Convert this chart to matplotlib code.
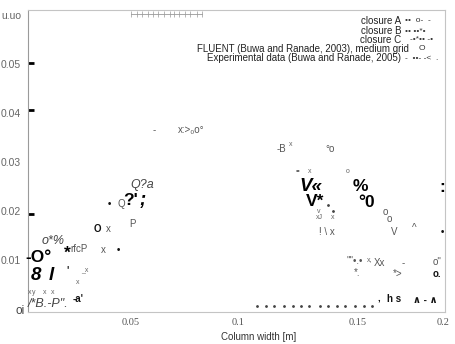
'''
Scanned column-width plot, rebuilt as text glyphs placed in data space.
x: column width [m], y: value (unlabelled, 0 - 0.06)
'''

import matplotlib
matplotlib.use('Agg')
from matplotlib import pyplot as plt
from matplotlib.transforms import ScaledTranslation

plt.rcParams['font.family'] = ['Liberation Sans', 'DejaVu Sans']

# axis ticks as printed
x_ticks = [0.0494, 0.1007, 0.1583, 0.1990]
x_tick_labels = ['0.05', '0.1', '0.15', '0.2']
y_ticks = [0.0, 0.01, 0.02, 0.03, 0.04, 0.05, 0.06]
y_tick_labels = ['oi', '0.01', '0.02', '0.03', '0.04', '0.05', 'u.uo']

# dark tick dashes on the left axis
dash_y = [0.0502, 0.0406, 0.0194]

# legend rows (text) and their garbled symbols
legend_labels = ['closure A', 'closure B', 'closure C',
                 'FLUENT (Buwa and Ranade, 2003), medium grid',
                 'Experimental data (Buwa and Ranade, 2005)']
legend_y = [0.0588, 0.0567, 0.0549, 0.0531, 0.0512]
legend_symbols = ['••  o-  -', '•• ••*•', '-•*•• -•', 'O', '-  ••- -<  .']
legend_sym_x = [0.1808, 0.1808, 0.1832, 0.1875, 0.1808]

# error-bar strip at the top
strip_x = [0.0494, 0.0523, 0.0547, 0.0576, 0.0600, 0.0624, 0.0652,
           0.0681, 0.0700, 0.0724, 0.0753, 0.0777, 0.0811, 0.0835]
strip_y = 0.0602

# dotted row near the bottom
dots_x = [0.110, 0.114, 0.118, 0.123, 0.127, 0.131, 0.135, 0.140,
          0.144, 0.148, 0.152, 0.157, 0.161, 0.165]
dots_y = 0.0006

# small trail of dots near "V*"
trail_x = [0.1439, 0.1463]
trail_y = [0.0212, 0.0200]

# tiny grey glyphs
tiny_x = [0.1261, 0.1295, 0.1353, 0.1535, 0.1396, 0.1400, 0.1463,
          0.0273, 0.0240, 0.0010, 0.0029, 0.0082, 0.0120, 0.1640]
tiny_y = [0.0335, 0.0280, 0.0280, 0.0280, 0.0198, 0.0186, 0.0186,
          0.0080, 0.0055, 0.0034, 0.0034, 0.0034, 0.0034, 0.0102]
tiny_txt = ['x', '••', 'x', 'o', 'v', 'xJ', 'x',
            '_x', 'x', 'x', 'y', 'x', 'x', 'x,']

# small grey glyphs
grey_x = [0.0604, 0.0782, 0.0446, 0.0499, 0.0384, 0.0245, 0.0360,
          0.1213, 0.1448, 0.1714, 0.1735, 0.1434, 0.1755, 0.1851,
          0.1568, 0.1688, 0.1578, 0.1775, 0.1799, 0.1962]
grey_y = [0.0365, 0.0365, 0.0214, 0.0173, 0.0163, 0.0122, 0.0120,
          0.0327, 0.0327, 0.0198, 0.0184, 0.0157, 0.0157, 0.0165,
          0.0098, 0.0094, 0.0073, 0.0071, 0.0094, 0.0096]
grey_txt = ['-', 'x:>₀o°', 'Q', 'P', 'x', 'rfcP', 'x',
            '-B', '°o', 'o', 'o', '! \\ x', 'V', '^',
            '""•.•', 'Xx', '*.', '*>', '-', 'o"']

# grey italic glyphs
ital_x = [0.0547, 0.0120, 0.0096]
ital_y = [0.0253, 0.0139, 0.0011]
ital_txt = ['Q?a', 'o*%', '/*B.-P".']

# big black bold glyphs
bold_x = [0.0494, 0.0048, 0.1592, 0.1986, 0.1377, 0.1626, 0.0187]
bold_y = [0.0222, 0.0106, 0.0250, 0.0247, 0.0219, 0.0218, 0.0114]
bold_txt = ["?'", '-O°', '%', ':', 'V*', '°0', '*']

# big black bold italic glyphs
bital_x = [0.0038, 0.0110, 0.1357, 0.0552]
bital_y = [0.0069, 0.0069, 0.0249, 0.0222]
bital_txt = ['8', 'l', 'V«', ';']

# small black glyphs
sblk_x = [0.0331, 0.0192, 0.0240, 0.1683, 0.1755, 0.1904,
          0.0389, 0.0432, 0.1986, 0.1962]
sblk_y = [0.0163, 0.0080, 0.0020, 0.0024, 0.0020, 0.0018,
          0.0214, 0.0120, 0.0157, 0.0071]
sblk_txt = ['O', "'", "-a'", ',', 'h s', '∧ - ∧', '•', '•', '•', 'o.']


if __name__ == '__main__':
    fig = plt.figure(figsize=(4.55, 3.44), dpi=100)
    ax = fig.add_axes([28 / 455, 32 / 344, 417 / 455, 302 / 344])
    ax.set_xlim(0, 0.2)
    ax.set_ylim(-0.0006, 0.061)

    for side in ['top', 'right', 'bottom']:
        ax.spines[side].set_color('#c4c4c4')
    ax.spines['left'].set_color('#9a9a9a')

    ax.set_xticks(x_ticks)
    ax.set_xticklabels(x_tick_labels, family='Liberation Serif',
                       fontsize=7.5, color='#555555')
    ax.set_yticks(y_ticks)
    ax.set_yticklabels(y_tick_labels, fontsize=7.5, color='#666666')
    ax.tick_params(axis='both', length=0)
    ax.tick_params(axis='x', pad=4)
    ax.tick_params(axis='y', pad=5)

    # the "oi" label sits closer to the axis and is a bit larger
    oi = ax.get_yticklabels()[0]
    oi.set_fontsize(8.5)
    oi.set_color('#444444')
    oi.set_transform(oi.get_transform()
                     + ScaledTranslation(4 / 100, 0, fig.dpi_scale_trans))

    ax.set_xlabel('Column width [m]', fontsize=7, color='#333333')
    ax.xaxis.set_label_coords(0.552, -0.065)

    ax.plot([0.0015] * len(dash_y), dash_y, ls='none', marker='_',
            ms=4, mew=2, color='black', clip_on=False)

    for lab, y, sym, sx in zip(legend_labels, legend_y, legend_symbols,
                               legend_sym_x):
        ax.text(0.1789 if not lab.startswith('FLUENT') else 0.1825, y, lab,
                ha='right', va='center', fontsize=7, color='#222222')
        ax.text(sx, y, sym, ha='left', va='center', fontsize=6,
                color='#333333')

    ax.plot(strip_x, [strip_y] * len(strip_x), color='#999999', lw=0.6,
            marker='|', ms=4, mew=0.5)
    ax.plot(dots_x, [dots_y] * len(dots_x), ls='none', marker='.', ms=2,
            color='#444444')
    ax.plot(trail_x, trail_y, ls='none', marker='.', ms=2, color='#444444')

    for x, y, t in zip(tiny_x, tiny_y, tiny_txt):
        ax.text(x, y, t, ha='center', va='center', fontsize=5,
                color='#666666')
    for x, y, t in zip(grey_x, grey_y, grey_txt):
        ax.text(x, y, t, ha='center', va='center', fontsize=7,
                color='#555555')
    for x, y, t in zip(ital_x, ital_y, ital_txt):
        ax.text(x, y, t, ha='center', va='center', fontsize=9,
                style='italic', color='#444444')
    for x, y, t in zip(bold_x, bold_y, bold_txt):
        ax.text(x, y, t, ha='center', va='center', fontsize=12.5,
                weight='bold', color='black')
    for x, y, t in zip(bital_x, bital_y, bital_txt):
        ax.text(x, y, t, ha='center', va='center', fontsize=13.5,
                weight='bold', style='italic', color='black')
    for x, y, t in zip(sblk_x, sblk_y, sblk_txt):
        ax.text(x, y, t, ha='center', va='center', fontsize=7,
                weight='bold', color='#111111')

    fig.savefig('out.png', dpi=100)
